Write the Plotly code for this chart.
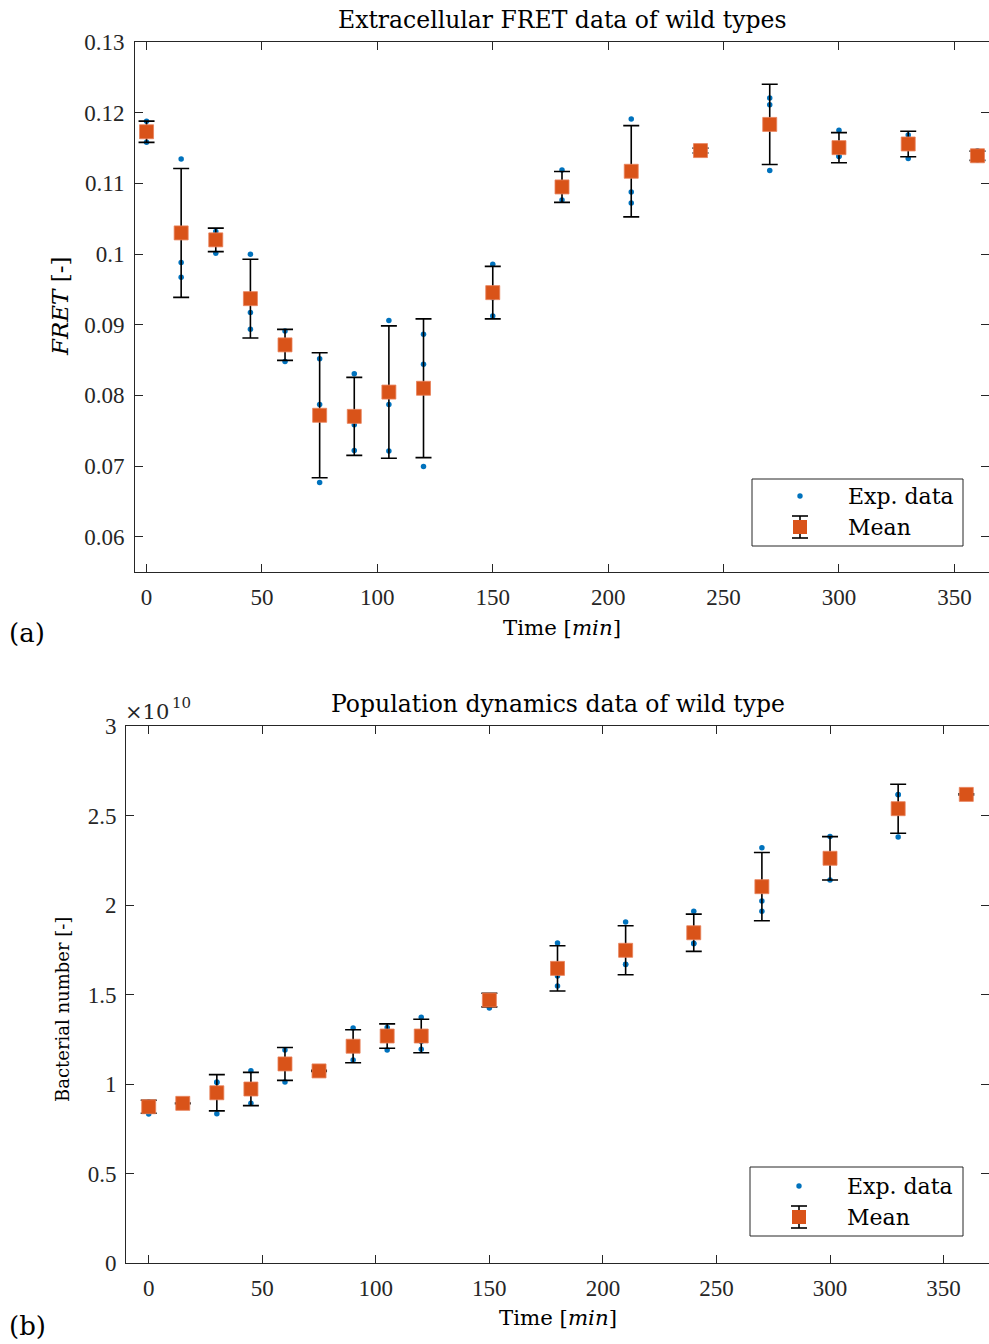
import numpy as np
import plotly.graph_objects as go

W, H = 989, 1344

# Sampling times (minutes)
time_min = [0, 15, 30, 45, 60, 75, 90, 105, 120, 150, 180, 210, 240, 270, 300, 330, 360]

# Extracellular FRET, three biological replicates
fret_rep1 = [0.1188, 0.11345, 0.1032, 0.09997, 0.08912, 0.08516, 0.08304, 0.09058, 0.08866,
             0.09856, 0.1119, 0.11911, 0.1150, 0.12208, 0.11751, 0.11685, 0.1146]
fret_rep2 = [0.1173, 0.0988, 0.1027, 0.09171, 0.08752, 0.0787, 0.07583, 0.0787, 0.08441,
             0.0938, 0.10892, 0.10878, 0.1146, 0.12113, 0.11386, 0.11636, 0.1138]
fret_rep3 = [0.1158, 0.0967, 0.1001, 0.08936, 0.08478, 0.06767, 0.0722, 0.07211, 0.06993,
             0.09124, 0.10765, 0.10723, 0.1143, 0.1118, 0.11378, 0.1135, 0.1133]

# Bacterial number, three biological replicates
pop_rep1 = [0.900e10, 0.894e10, 1.011e10, 1.074e10, 1.190e10, 1.076e10, 1.313e10, 1.315e10, 1.373e10,
            1.492e10, 1.788e10, 1.905e10, 1.965e10, 2.320e10, 2.382e10, 2.618e10, 2.621e10]
pop_rep2 = [0.887e10, 0.892e10, 1.008e10, 0.950e10, 1.135e10, 1.073e10, 1.186e10, 1.299e10, 1.237e10,
            1.490e10, 1.603e10, 1.669e10, 1.784e10, 2.022e10, 2.261e10, 2.616e10, 2.618e10]
pop_rep3 = [0.832e10, 0.890e10, 0.834e10, 0.892e10, 1.011e10, 1.070e10, 1.134e10, 1.190e10, 1.194e10,
            1.425e10, 1.547e10, 1.667e10, 1.786e10, 1.965e10, 2.140e10, 2.380e10, 2.615e10]

fret_ticks = [0.06, 0.07, 0.08, 0.09, 0.1, 0.11, 0.12, 0.13]
fret_ticklabels = ["0.06", "0.07", "0.08", "0.09", "0.1", "0.11", "0.12", "0.13"]
pop_ticks = [0, 0.5, 1, 1.5, 2, 2.5, 3]
pop_ticklabels = ["0", "0.5", "1", "1.5", "2", "2.5", "3"]
time_ticks = [0, 50, 100, 150, 200, 250, 300, 350]

BLUE = "#0072BD"
ORANGE = "#D95319"
AX = "#262626"
NUM_FONT = "Liberation Serif"
TXT_FONT = "DejaVu Serif"
FS = 23

t = np.array(time_min, dtype=float)
fret = np.array([fret_rep1, fret_rep2, fret_rep3])
pop = np.array([pop_rep1, pop_rep2, pop_rep3]) / 1e10

fig = go.Figure()


def add_panel(data, xa, ya):
    mean = data.mean(axis=0)
    sd = data.std(axis=0, ddof=1)
    fig.add_trace(go.Scatter(
        x=np.tile(t, data.shape[0]), y=data.ravel(), mode="markers",
        marker=dict(color=BLUE, size=5.5, line=dict(width=0)),
        xaxis=xa, yaxis=ya, showlegend=False, hoverinfo="skip"))
    fig.add_trace(go.Scatter(
        x=t, y=mean, mode="markers",
        marker=dict(color=ORANGE, size=14, symbol="square",
                    line=dict(color="#E8825A", width=0.8)),
        error_y=dict(type="data", array=sd, visible=True,
                     color="black", thickness=1.6, width=8),
        xaxis=xa, yaxis=ya, showlegend=False, hoverinfo="skip"))


add_panel(fret, "x", "y")
add_panel(pop, "x2", "y2")

axis_common = dict(showline=True, linecolor=AX, linewidth=1, mirror="ticks",
                   ticks="inside", ticklen=8, tickcolor=AX, tickwidth=1,
                   showgrid=False, zeroline=False, automargin=False,
                   tickfont=dict(family=NUM_FONT, size=FS, color=AX))


def px(x):
    return x / W


def py(y):
    return 1 - y / H


fig.update_layout(
    width=W, height=H,
    margin=dict(l=0, r=0, t=0, b=0),
    paper_bgcolor="white", plot_bgcolor="white",
    font=dict(family=TXT_FONT, size=FS, color="black"),
    xaxis=dict(domain=[px(135), 1.0], anchor="y", range=[-5, 365],
               tickvals=time_ticks, ticklabelstandoff=4, **axis_common),
    yaxis=dict(domain=[py(572), py(42)], anchor="x", range=[0.055, 0.13],
               tickvals=fret_ticks, ticktext=fret_ticklabels, ticklabelstandoff=5,
               **axis_common),
    xaxis2=dict(domain=[px(126), 1.0], anchor="y2", range=[-10, 370],
                tickvals=time_ticks, ticklabelstandoff=4, **axis_common),
    yaxis2=dict(domain=[py(1263), py(726)], anchor="x2", range=[0, 3],
                tickvals=pop_ticks, ticktext=pop_ticklabels, ticklabelstandoff=4,
                **axis_common),
)

# (text, x px, y px, size, extra)
labels = [
    ("Extracellular FRET data of wild types", 562, 20, 23.5, {}),
    ("Population dynamics data of wild type", 558, 704, 23.5, {}),
    ("Time [<i>min</i>]", 562, 627, 21.3, {}),
    ("Time [<i>min</i>]", 558, 1317, 21.3, {}),
    ("<i>FRET</i> [-]", 60, 307, 23, {"textangle": -90}),
    ("Bacterial number [-]", 62, 1009, 18, {"textangle": -90}),
    ("(a)", 27, 633, 26, {}),
    ("(b)", 27, 1326, 26, {}),
]
for txt, x, y, size, extra in labels:
    fig.add_annotation(text=txt, xref="paper", yref="paper", showarrow=False,
                       x=px(x), y=py(y), xanchor="center", yanchor="middle",
                       font=dict(family=TXT_FONT, size=size, color="black"), **extra)

# Axis multiplier of the bacterial number axis
fig.add_annotation(text="×10", xref="paper", yref="paper", showarrow=False,
                   x=px(123), y=py(712), xanchor="left", yanchor="middle",
                   font=dict(family=TXT_FONT, size=21, color=AX))
fig.add_annotation(text="10", xref="paper", yref="paper", showarrow=False,
                   x=px(170), y=py(703), xanchor="left", yanchor="middle",
                   font=dict(family=TXT_FONT, size=15, color=AX))

# Legend boxes drawn in page coordinates
shapes = []


def legend(x0, y0, x1, y1, row1, row2, sym_x, text_x):
    shapes.append(dict(type="rect", xref="paper", yref="paper",
                       x0=px(x0), x1=px(x1), y0=py(y1), y1=py(y0),
                       line=dict(color=AX, width=1), fillcolor="white", layer="above"))
    shapes.append(dict(type="circle", xref="paper", yref="paper",
                       x0=px(sym_x - 2.7), x1=px(sym_x + 2.7), y0=py(row1 + 2.7), y1=py(row1 - 2.7),
                       line=dict(width=0), fillcolor=BLUE, layer="above"))
    shapes.append(dict(type="line", xref="paper", yref="paper",
                       x0=px(sym_x), x1=px(sym_x), y0=py(row2 + 11), y1=py(row2 - 11),
                       line=dict(color="black", width=1.6), layer="above"))
    for dy in (-11, 11):
        shapes.append(dict(type="line", xref="paper", yref="paper",
                           x0=px(sym_x - 8), x1=px(sym_x + 8), y0=py(row2 + dy), y1=py(row2 + dy),
                           line=dict(color="black", width=1.6), layer="above"))
    shapes.append(dict(type="rect", xref="paper", yref="paper",
                       x0=px(sym_x - 7), x1=px(sym_x + 7), y0=py(row2 + 7), y1=py(row2 - 7),
                       line=dict(width=0), fillcolor=ORANGE, layer="above"))
    for txt, ry in (("Exp. data", row1), ("Mean", row2)):
        fig.add_annotation(text=txt, xref="paper", yref="paper", showarrow=False,
                           x=px(text_x), y=py(ry), xanchor="left", yanchor="middle",
                           font=dict(family=TXT_FONT, size=22, color="black"))


legend(752, 479, 963, 546, 496, 527, 800, 846)
legend(750, 1167, 963, 1236, 1186, 1217, 799, 845)
fig.update_layout(shapes=shapes)

fig.write_html("out.html")
